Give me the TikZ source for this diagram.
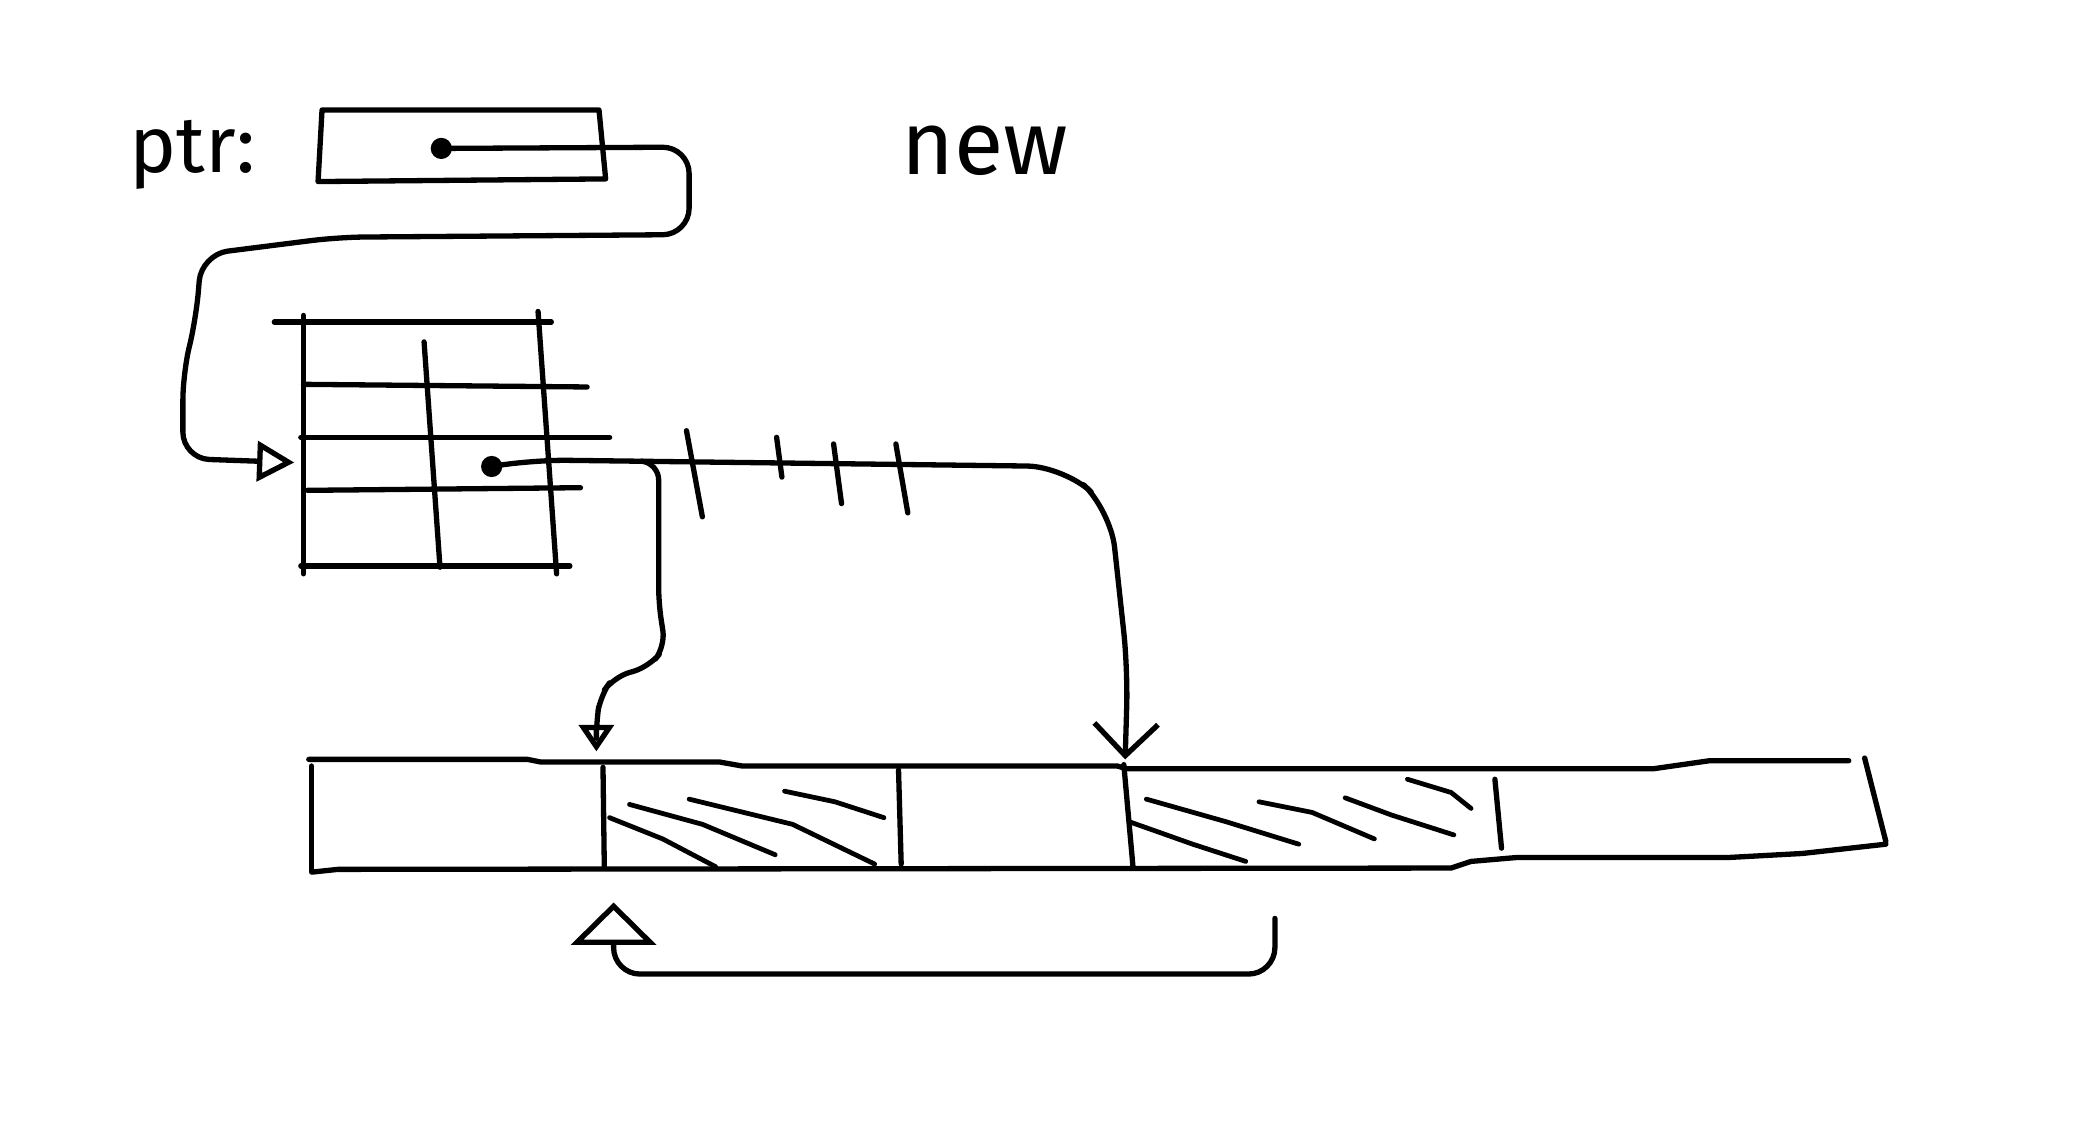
\documentclass[tikz,border=0pt]{standalone}
\usepackage{fontspec}
\setmainfont{Fira Sans}
\usetikzlibrary{positioning,arrows.meta,calc}
\definecolor{Ink}{HTML}{000000}
\tikzset{
  ink/.style={Ink, line width=2pt, line cap=round, line join=round},
  hatch/.style={Ink, line width=1.8pt, line cap=round},
  label/.style={Ink, font=\fontsize{30}{34}\selectfont, anchor=base west, inner sep=0pt},
}

\begin{document}
\begin{tikzpicture}[x=0.5pt, y=-0.5pt]
  \useasboundingbox (0,0) rectangle (1568,856);
  % the two words
  \node[label] (ptrlabel) at (97,130) {ptr:};
  \node[label, font=\fontsize{34}{38}\selectfont] (newlabel) at (680,132) {new};
  % pointer cell
  \draw[ink] (243,83) -- (452,83) -- (457,135) -- (240,137) -- cycle;
  \coordinate (ptrdot) at (333,112);
  \fill[Ink] (ptrdot) circle[radius=4pt];
  % table: rows and columns
  \draw[ink] (229,238) -- (229,433);
  \draw[ink] (406,235) -- (420,433);
  \draw[ink] (320,258) -- (332,428);
  \draw[ink] (207,243) -- (416,243);
  \draw[ink] (229,290) -- (443,292);
  \draw[ink] (227,330) -- (460,330);
  \draw[ink] (232,370) -- (438,368);
  \draw[ink] (227,427) -- (430,427);
  \coordinate (tblin) at (222,349);
  \coordinate (slot) at (371,352);
  \fill[Ink] (slot) circle[radius=4pt];
  % ptr -> table
  \draw[ink, rounded corners=10pt, -{Triangle[open, length=14pt, width=15pt]}]
    (ptrdot) -- (520,111) -- (520,177) -- (255,179) -- (152,192)
    -- (148,240) -- (138,282) -- (138,346) -- (tblin);
  % array
  \draw[ink] (233,573) -- (398,573) -- (408,575) -- (543,575) -- (560,578)
    -- (843,578) -- (850,580) -- (1248,580) -- (1290,574) -- (1395,574);
  \draw[ink] (1407,572) -- (1423,635);
  \draw[ink] (236,658) -- (255,656) -- (1095,655) -- (1110,650) -- (1145,647)
    -- (1305,647) -- (1360,644) -- (1423,637);
  \draw[ink] (235,578) -- (235,658);
  % cell borders
  \draw[ink] (455,579) -- (456,655);
  \draw[ink] (678,581) -- (680,652);
  \draw[ink] (848,577) -- (855,655);
  \draw[ink] (1128,588) -- (1133,640);
  % used cells
  \draw[hatch] (460,617) -- (500,633) -- (540,654);
  \draw[hatch] (475,607) -- (530,622) -- (585,645);
  \draw[hatch] (520,603) -- (598,622) -- (660,652);
  \draw[hatch] (592,597) -- (630,605) -- (667,617);
  \draw[hatch] (852,620) -- (900,637) -- (940,650);
  \draw[hatch] (865,603) -- (925,620) -- (980,637);
  \draw[hatch] (950,605) -- (990,613) -- (1037,633);
  \draw[hatch] (1015,602) -- (1050,615) -- (1097,630);
  \draw[hatch] (1062,588) -- (1095,598) -- (1110,610);
  \coordinate (cellA) at (450,567);
  \coordinate (cellB) at (849,573);
  \coordinate (cellC) at (463,681);
  \coordinate (fork) at (484,348);
  \coordinate (backfrom) at (962,693);
  % table slot -> array
  \draw[ink, rounded corners=14pt, -{Straight Barb[length=12pt, width=24pt]}]
    (slot) -- (400,347) -- (803,352) -- (838,385) -- (851,505) -- (cellB);
  \draw[ink, rounded corners=6pt, -{Triangle[open, length=10pt, width=13pt]}]
    (fork) -- (497,350) -- (497,455) -- (502,488) -- (490,503) -- (463,511)
    -- (453,525) -- (450,545) -- (cellA);
  % ticks across the line
  \foreach \xa/\ya/\xb/\yb in {518/325/530/390, 586/330/590/360,
                               629/335/635/380, 676/335/685/387}
    \draw[ink] (\xa,\ya) -- (\xb,\yb);
  % back to the first free cell
  \draw[ink, rounded corners=10pt, -{Triangle[open, length=16pt, width=32pt]}]
    (backfrom) -- (962,735) -- (463,735) -- (cellC);
\end{tikzpicture}
\end{document}
